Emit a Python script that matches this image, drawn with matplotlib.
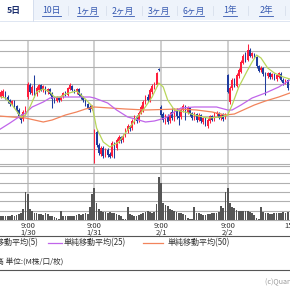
import numpy as np
import matplotlib.pyplot as plt
from matplotlib.patches import Rectangle

plt.rcParams['font.family'] = ['Noto Sans CJK JP', 'DejaVu Sans']

W, H = 290, 290

# ---- data (10-minute bars, 30 per day; bar 30*d is the 9:00 bar) ----
first_bar = 18
opens = [103, 104, 108, 103, 100, 96, 99, 94, 90, 84, 81, 87,
         103, 115, 107, 114, 106, 110, 115, 110, 113, 108, 111, 106, 102, 99, 102,
         100, 103, 107, 105, 111, 114, 110, 108, 111, 106, 103, 100, 96, 93, 91,
         47, 68, 55, 46, 52, 44, 50, 46, 44, 56, 52, 59, 63, 60, 64,
         69, 74, 72, 78, 83, 80, 87, 90, 98, 103, 100, 108, 113, 115, 131,
         93, 86, 78, 84, 79, 88, 82, 90, 84, 83, 90, 93, 88, 92, 87,
         82, 86, 80, 85, 78, 82, 74, 79, 84, 81, 86, 87, 82, 86, 82,
         125, 98, 112, 120, 114, 124, 128, 137, 144, 140, 150, 144, 146, 143,
         134, 130, 132, 127, 124, 127, 123, 126, 121, 123, 126, 120, 117, 120]
highs = [110, 111, 109, 105, 101, 100, 100, 95, 92, 86, 90, 94,
         118, 117, 115, 125, 114, 116, 116, 115, 114, 112, 112, 108, 104, 104, 103,
         105, 108, 109, 113, 117, 115, 111, 112, 112, 107, 104, 101, 97, 95, 95,
         71, 70, 57, 54, 54, 52, 52, 48, 59, 58, 62, 65, 64, 66, 72,
         76, 75, 81, 85, 85, 89, 95, 100, 105, 106, 112, 116, 118, 128, 132,
         95, 88, 86, 86, 88, 92, 92, 92, 90, 92, 96, 95, 94, 93, 88,
         88, 87, 87, 86, 83, 83, 82, 85, 85, 88, 89, 88, 86, 87, 87,
         126, 114, 122, 122, 127, 132, 140, 146, 148, 156, 152, 148, 147, 144,
         135, 134, 133, 128, 128, 128, 127, 127, 126, 128, 128, 122, 121, 121]
lows = [102, 103, 101, 97, 94, 95, 92, 87, 82, 77, 79, 85,
        101, 106, 105, 103, 104, 108, 109, 108, 106, 106, 105, 92, 97, 98, 98,
        99, 102, 104, 104, 110, 109, 107, 106, 104, 101, 98, 94, 91, 88, 90,
        37, 53, 45, 44, 42, 43, 43, 42, 43, 42, 50, 57, 57, 58, 63,
        67, 69, 70, 76, 77, 78, 86, 88, 96, 98, 98, 106, 111, 114, 129,
        83, 78, 76, 76, 77, 80, 79, 81, 75, 81, 88, 80, 86, 84, 80,
        80, 78, 79, 77, 76, 74, 72, 77, 79, 79, 84, 81, 80, 79, 81,
        107, 96, 110, 113, 113, 122, 127, 136, 138, 139, 143, 142, 142, 132,
        128, 128, 124, 105, 122, 121, 121, 120, 119, 122, 119, 115, 116, 110]
closes = [108, 109, 103, 99, 96, 99, 94, 89, 84, 80, 88, 92,
          116, 108, 113, 104, 112, 115, 110, 114, 107, 111, 106, 101, 99, 102, 100,
          104, 107, 105, 112, 115, 110, 108, 111, 105, 103, 100, 96, 92, 90, 94,
          69, 55, 47, 52, 44, 50, 45, 43, 57, 52, 60, 63, 59, 64, 70,
          74, 71, 79, 83, 79, 87, 93, 98, 103, 100, 110, 114, 116, 127, 130,
          85, 80, 84, 78, 85, 82, 90, 84, 82, 90, 94, 88, 92, 86, 82,
          86, 80, 85, 79, 82, 76, 80, 84, 80, 87, 87, 82, 85, 81, 86,
          108, 112, 120, 115, 125, 130, 138, 144, 140, 150, 144, 147, 143, 134,
          129, 132, 126, 124, 127, 123, 126, 121, 125, 127, 120, 117, 120, 112]
volume = [0.08, 0.09, 0.08, 0.09, 0.08, 0.10, 0.09, 0.10, 0.12, 0.15, 0.23, 0.61,
          0.56, 0.23, 0.20, 0.16, 0.14, 0.13, 0.12, 0.10, 0.16, 0.12, 0.09, 0.08, 0.06, 0.05, 0.03,
          0.20, 0.09, 0.08, 0.08, 0.08, 0.09, 0.08, 0.10, 0.12, 0.11, 0.12, 0.14, 0.12, 0.28, 0.55,
          0.68, 0.37, 0.23, 0.20, 0.18, 0.18, 0.16, 0.17, 0.15, 0.14, 0.12, 0.11, 0.08, 0.03, 0.02,
          0.28, 0.12, 0.10, 0.09, 0.08, 0.10, 0.12, 0.15, 0.17, 0.20, 0.18, 0.15, 0.17, 0.35, 0.93,
          0.80, 0.37, 0.32, 0.30, 0.24, 0.22, 0.20, 0.18, 0.15, 0.14, 0.12, 0.10, 0.05, 0.03, 0.02,
          0.28, 0.16, 0.14, 0.12, 0.11, 0.11, 0.12, 0.12, 0.14, 0.15, 0.14, 0.18, 0.30, 0.25, 0.60,
          0.68, 0.37, 0.28, 0.25, 0.22, 0.20, 0.20, 0.19, 0.20, 0.19, 0.18, 0.15, 0.10, 0.05,
          0.02, 0.28, 0.17, 0.15, 0.14, 0.13, 0.13, 0.14, 0.16, 0.14, 0.15, 0.18, 0.16, 0.18]

ma5_x = [18, 20, 23, 27, 29, 31, 34, 37, 40, 42, 45, 47, 52, 55, 59, 61, 64, 67, 71, 75,
         79, 82, 86, 89, 91, 93, 96, 101, 105, 111, 117, 120, 122, 125, 129, 131, 133, 135,
         138, 141, 145, 148]
ma5_y = [103, 102, 95, 83, 85, 93, 108, 111, 108, 103, 103, 106, 109, 103, 94, 72, 58, 53, 58, 70,
         82, 90, 103, 117, 113, 100, 90, 88, 85, 82, 83, 85, 95, 113, 130, 138, 145, 142,
         132, 127, 123, 121]
ma25_x = [17, 22, 26, 29, 32, 37, 40, 45, 58, 60, 66, 70, 75, 80, 83, 87, 92, 96, 99,
          105, 115, 120, 122, 126, 131, 137, 143, 148]
ma25_y = [70, 77, 83, 87, 93, 98, 102, 103, 103, 102, 97, 90, 83, 80, 78, 79, 82, 88, 92,
          93, 93, 90, 90, 95, 102, 107, 113, 120]
ma50_x = [17, 23, 29, 35, 37, 41, 47, 52, 56, 60, 67, 74, 83, 98, 106, 113, 119, 123,
          128, 132, 137, 143, 148]
ma50_y = [84, 83, 82, 79, 78, 80, 85, 88, 91, 93, 92, 91, 90, 91, 90, 88, 85, 86,
          91, 95, 99, 103, 107]

day_starts = [30, 60, 90, 120, 150]
time_labels = ['9:00', '9:00', '9:00', '9:00', '15:00']
date_labels = ['1/30', '1/31', '2/1', '2/2', '']
tabs = ['5日', '10日', '1ヶ月', '2ヶ月', '3ヶ月', '6ヶ月', '1年', '2年']
tab_x = [14, 51.5, 87.5, 123, 158.5, 193.5, 230, 266]
tab_w = [0, 19, 21, 21, 21, 21, 14, 14]
legend_names = ['単純移動平均(5)', '単純移動平均(25)', '単純移動平均(50)']

UP, DOWN = '#ff1f3d', '#1f3c9e'
C5, C25, C50 = '#b8d65a', '#c065ea', '#f2845c'
GRID = '#b0b0b0'


def rect(x0, y0, x1, y1):
    return [x0 / W, 1 - y1 / H, (x1 - x0) / W, (y1 - y0) / H]


fig = plt.figure(figsize=(2.9, 2.9), dpi=100)
fig.patch.set_facecolor('white')

XL = (17.53, 148.05)
ax = fig.add_axes(rect(0, 40, 290, 164))
axv = fig.add_axes(rect(0, 165.5, 290, 220), sharex=ax)

idx = np.arange(first_bar, first_bar + len(closes))
o, h, l, c = map(np.array, (opens, highs, lows, closes))
col = np.where(c >= o, UP, DOWN)

for a in (ax, axv):
    a.set_xlim(*XL)
    for s in ('left', 'right'):
        a.spines[s].set_visible(False)
    for s in ('top', 'bottom'):
        a.spines[s].set_color(GRID)
        a.spines[s].set_linewidth(0.8)
    a.tick_params(left=False, bottom=False, labelleft=False, labelbottom=False)
    for d in day_starts:
        a.axvline(d, color='#cfcfcf', lw=1.4, zorder=1)

ax.set_ylim(36, 160)
for g in [50.9, 67.3, 83.7, 100.1, 116.5, 132.9, 149.3]:
    ax.axhline(g, color=GRID, lw=0.8, zorder=1)

ax.vlines(idx, l, h, colors=col, lw=0.75, zorder=3)
ax.bar(idx, np.maximum(np.abs(c - o), 0.6), bottom=np.minimum(o, c), width=0.7,
       color=col, zorder=4, linewidth=0)

ax.plot(ma50_x, ma50_y, color=C50, lw=0.9, zorder=5)
ax.plot(ma25_x, ma25_y, color=C25, lw=0.9, zorder=5)
ax.plot(ma5_x, ma5_y, color=C5, lw=0.9, zorder=6)

axv.set_ylim(0, 1.172)
for g in [0.2, 0.4, 0.6, 0.8, 1.0]:
    axv.axhline(g, color=GRID, lw=0.8, zorder=1)
axv.bar(idx, volume, width=0.78, color='#555555', zorder=3, linewidth=0)

# ---- overlay for texts and decoration (pixel coordinates) ----
ov = fig.add_axes([0, 0, 1, 1])
ov.set_xlim(0, W)
ov.set_ylim(H, 0)
ov.axis('off')
ov.patch.set_alpha(0)

ov.add_patch(Rectangle((33, 0), 257, 20, facecolor='#eef3fb', edgecolor='none'))
ov.plot([0, 290], [20.5, 20.5], color='#dfe6f2', lw=0.7)
ov.plot([33, 33], [0, 20.5], color='#d5deee', lw=0.7)
for sx in [68, 106, 142, 177, 213, 248, 285]:
    ov.plot([sx, sx], [6, 15], color='#d8dfec', lw=0.6)
for i, (t, x) in enumerate(zip(tabs, tab_x)):
    if i == 0:
        ov.text(x, 11, t, ha='center', va='center', fontsize=6.3,
                fontweight='bold', color='#1c2f6e')
    else:
        ov.text(x, 11, t, ha='center', va='center', fontsize=6.3, color='#3457b0')
        ov.plot([x - tab_w[i] / 2, x + tab_w[i] / 2], [15.6, 15.6], color='#3457b0', lw=0.6)

for d, t, dt in zip(day_starts, time_labels, date_labels):
    px = (d - XL[0]) / (XL[1] - XL[0]) * W
    ov.text(px, 225.5, t, ha='center', va='center', fontsize=5.5, color='#333333')
    if dt:
        ov.text(px, 232.5, dt, ha='center', va='center', fontsize=5.5, color='#333333')

ov.plot([0, 290], [236.3, 236.3], color='#555555', lw=0.8)
ov.plot([0, 290], [270.3, 270.3], color='#555555', lw=0.8)

ov.text(38, 242.8, legend_names[0], ha='right', va='center', fontsize=5.8, color='#333333')
ov.plot([48, 62], [242.5, 242.5], color=C25, lw=0.9)
ov.text(64, 242.8, legend_names[1], ha='left', va='center', fontsize=5.8, color='#333333')
ov.plot([143, 163], [242.5, 242.5], color=C50, lw=0.9)
ov.text(168, 242.8, legend_names[2], ha='left', va='center', fontsize=5.8, color='#333333')

ov.text(63, 262, '出来高 単位:(M株/口/枚)', ha='right', va='center', fontsize=5.5,
        color='#333333')
ov.text(265, 281, '(c)Quants Research Inc.', ha='left', va='center', fontsize=5.2,
        color='#9a9a9a')

fig.savefig('out.png', dpi=100)
